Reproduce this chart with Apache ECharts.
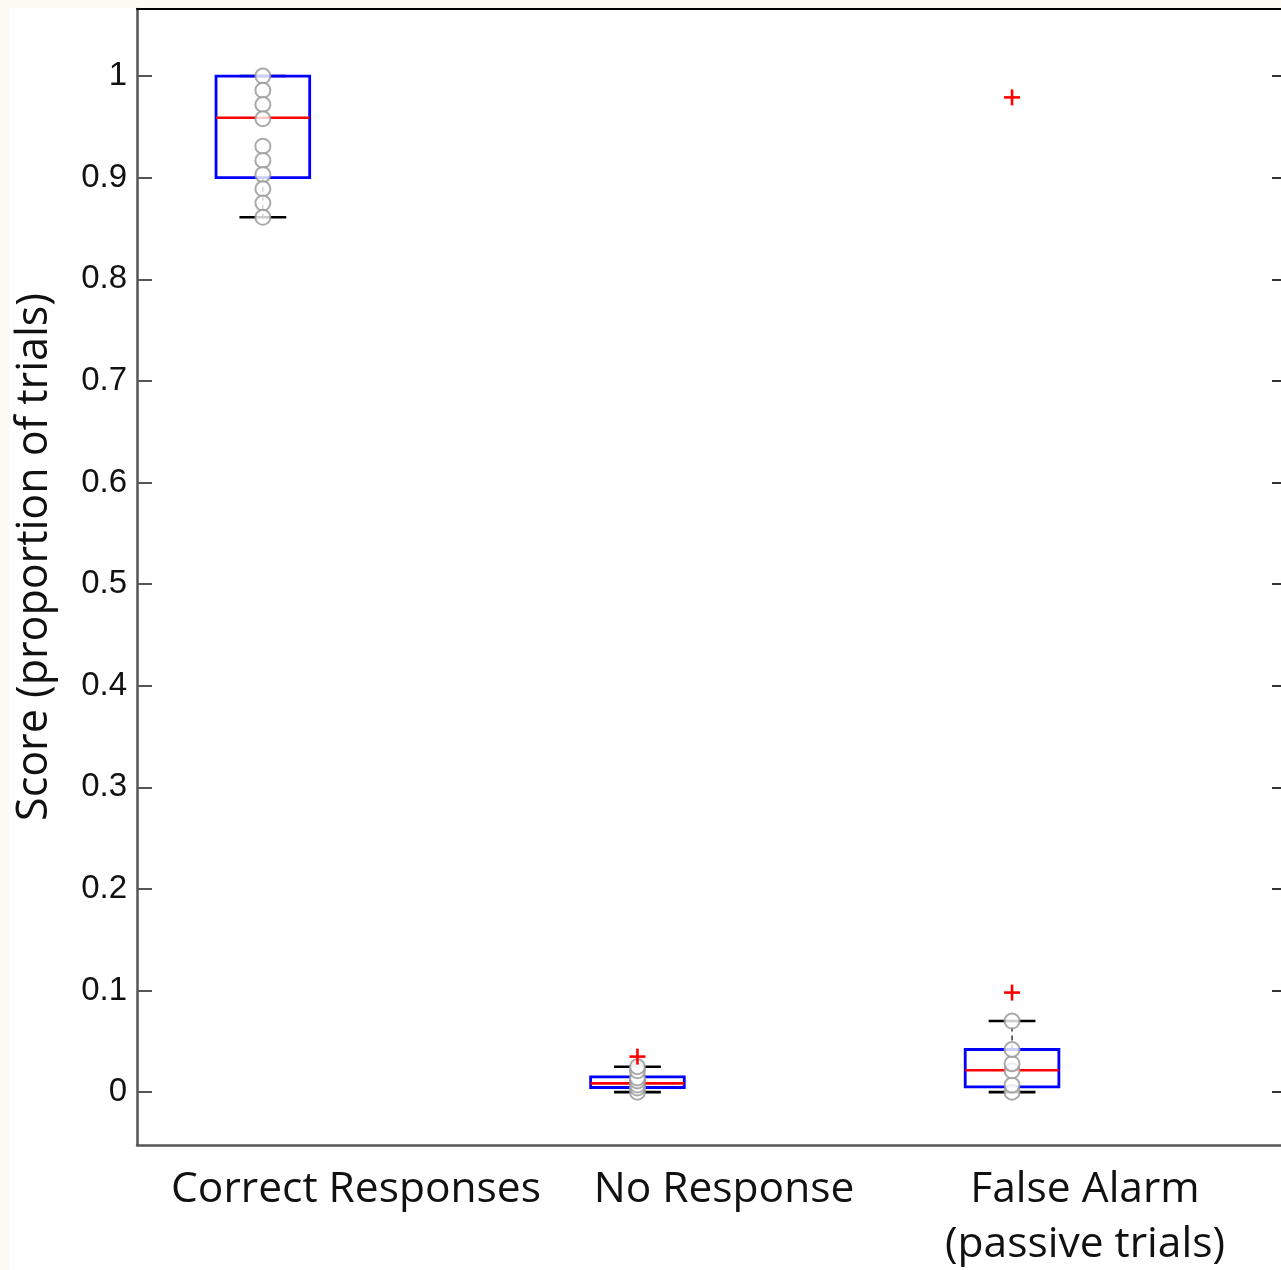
<!DOCTYPE html>
<html>
<head>
<meta charset="utf-8">
<script src="https://cdn.jsdelivr.net/npm/echarts@6/dist/echarts.min.js"></script>
<style>
  html, body { margin: 0; padding: 0; background: #ffffff; }
  #chart { width: 1281px; height: 1270px; }
</style>
</head>
<body>
<div id="chart"></div>
<script>
// Group names along the bottom
const categories = ['Correct Responses', 'No Response', 'False Alarm\n(passive trials)'];
const yTitle = 'Score (proportion of trials)';

// Box statistics per group: [lower whisker, q1, median, q3, upper whisker]
const correctStats = [0.861, 0.900, 0.959, 1.000, 1.000];
const noResponseStats = [0.000, 0.0046, 0.0086, 0.0151, 0.025];
const falseAlarmStats = [0.000, 0.0052, 0.0215, 0.042, 0.070];

// Individual subject scores (hollow circles)
const correctPoints = [1.000, 0.986, 0.972, 0.958, 0.931, 0.917, 0.903, 0.889, 0.875, 0.861];
const noResponsePoints = [0.000, 0.004, 0.007, 0.011, 0.014, 0.021, 0.025];
const falseAlarmPoints = [0.000, 0.007, 0.021, 0.028, 0.042, 0.070];

// Outliers (red plus marks): [group position, value]
const outliers = [[2, 0.035], [3, 0.098], [3, 0.979]];

// Y tick labels
const yTicks = [0, 0.1, 0.2, 0.3, 0.4, 0.5, 0.6, 0.7, 0.8, 0.9, 1];

const allStats = [correctStats, noResponseStats, falseAlarmStats];
const boxData = allStats.map((s, i) => [i + 1].concat(s));
const pointData = []
  .concat(correctPoints.map(v => [1, v]))
  .concat(noResponsePoints.map(v => [2, v]))
  .concat(falseAlarmPoints.map(v => [3, v]));

const BOX_HALF = 0.125;
const CAP_HALF = 0.0625;

function renderBox(params, api) {
  const x = api.value(0);
  const lo = api.value(1), q1 = api.value(2), med = api.value(3), q3 = api.value(4), hi = api.value(5);
  const pLo = api.coord([x, lo]), pQ1 = api.coord([x, q1]), pMed = api.coord([x, med]);
  const pQ3 = api.coord([x, q3]), pHi = api.coord([x, hi]);
  const left = api.coord([x - BOX_HALF, med])[0];
  const right = api.coord([x + BOX_HALF, med])[0];
  const capL = api.coord([x - CAP_HALF, med])[0];
  const capR = api.coord([x + CAP_HALF, med])[0];
  const cx = pMed[0];
  const dash = { stroke: '#000', lineWidth: 1.2, lineDash: [5, 4] };
  const cap = { stroke: '#000', lineWidth: 2.6 };
  return {
    type: 'group',
    children: [
      { type: 'line', shape: { x1: cx, y1: pQ3[1], x2: cx, y2: pHi[1] }, style: dash },
      { type: 'line', shape: { x1: cx, y1: pQ1[1], x2: cx, y2: pLo[1] }, style: dash },
      { type: 'line', shape: { x1: capL, y1: pHi[1], x2: capR, y2: pHi[1] }, style: cap },
      { type: 'line', shape: { x1: capL, y1: pLo[1], x2: capR, y2: pLo[1] }, style: cap },
      { type: 'rect', shape: { x: left, y: pQ3[1], width: right - left, height: pQ1[1] - pQ3[1] },
        style: { fill: null, stroke: '#0000ff', lineWidth: 2.8 } },
      { type: 'line', shape: { x1: left, y1: pMed[1], x2: right, y2: pMed[1] },
        style: { stroke: '#ff0000', lineWidth: 2.6 } }
    ]
  };
}

function renderPlus(params, api) {
  const p = api.coord([api.value(0), api.value(1)]);
  const h = 8;
  const st = { stroke: '#ff0000', lineWidth: 2.6 };
  return {
    type: 'group',
    children: [
      { type: 'line', shape: { x1: p[0] - h, y1: p[1], x2: p[0] + h, y2: p[1] }, style: st },
      { type: 'line', shape: { x1: p[0], y1: p[1] - h, x2: p[0], y2: p[1] + h }, style: st }
    ]
  };
}

const chart = echarts.init(document.getElementById('chart'), null, { renderer: 'canvas' });

const labelFont = "'Open Sans', 'Noto Sans', sans-serif";

chart.setOption({
  backgroundColor: '#ffffff',
  animation: false,
  grid: { left: 137, top: 9, width: 1150, height: 1136, containLabel: false, outerBoundsMode: 'none' },
  xAxis: [
    {
      type: 'value', min: 0.664, max: 3.734, position: 'bottom',
      axisLine: { show: true, onZero: false, lineStyle: { color: '#555555', width: 2.5 } },
      axisTick: { show: false }, axisLabel: { show: false }, splitLine: { show: false }
    },
    {
      type: 'value', min: 0.664, max: 3.734, position: 'top',
      axisLine: { show: true, onZero: false, lineStyle: { color: '#000000', width: 2 } },
      axisTick: { show: false }, axisLabel: { show: false }, splitLine: { show: false }
    }
  ],
  yAxis: [
    {
      type: 'value', min: -0.052, max: 1.066, position: 'left',
      axisLine: { show: true, onZero: false, lineStyle: { color: '#555555', width: 2.5 } },
      axisTick: { show: true, inside: true, length: 15, customValues: yTicks,
        lineStyle: { color: '#555555', width: 2 } },
      axisLabel: { show: true, customValues: yTicks, margin: 10,
        fontFamily: "'Liberation Sans', Arial, sans-serif", fontSize: 33, color: '#111111',
        formatter: v => String(Math.round(v * 10) / 10) },
      splitLine: { show: false }
    },
    {
      type: 'value', min: -0.052, max: 1.066, position: 'right',
      axisLine: { show: true, onZero: false, lineStyle: { color: '#000000', width: 2 } },
      axisTick: { show: true, inside: true, length: 15, customValues: yTicks,
        lineStyle: { color: '#333333', width: 2 } },
      axisLabel: { show: false }, splitLine: { show: false }
    }
  ],
  graphic: [
    { type: 'rect', left: 0, top: 0, z: -10, shape: { width: 1281, height: 8 }, style: { fill: '#fcfaf3' }, silent: true },
    { type: 'rect', left: 0, top: 0, z: -10, shape: { width: 10, height: 1270 }, style: { fill: '#fcfaf3' }, silent: true },
    { type: 'text', x: 35, y: 557, rotation: Math.PI / 2,
      style: { text: yTitle, fontFamily: labelFont, fontSize: 43,
        fill: '#111111', textAlign: 'center', textVerticalAlign: 'middle' } },
    { type: 'text', x: 356, y: 1190, style: { text: categories[0], fontFamily: labelFont, fontSize: 42.5,
        fill: '#111111', textAlign: 'center', textVerticalAlign: 'middle' } },
    { type: 'text', x: 724, y: 1190, style: { text: categories[1], fontFamily: labelFont, fontSize: 42.5,
        fill: '#111111', textAlign: 'center', textVerticalAlign: 'middle' } },
    { type: 'text', x: 1085, y: 1217, style: { text: categories[2], fontFamily: labelFont, fontSize: 42.5,
        lineHeight: 55, fill: '#111111', textAlign: 'center', textVerticalAlign: 'middle' } }
  ],
  series: [
    {
      type: 'custom', xAxisIndex: 0, yAxisIndex: 0, z: 2,
      renderItem: renderBox, data: boxData, clip: false
    },
    {
      type: 'scatter', xAxisIndex: 0, yAxisIndex: 0, z: 3,
      symbol: 'emptyCircle', symbolSize: 15,
      itemStyle: { color: '#959595', borderColor: '#959595', borderWidth: 1.5 },
      data: pointData
    },
    {
      type: 'custom', xAxisIndex: 0, yAxisIndex: 0, z: 4,
      renderItem: renderPlus, data: outliers
    }
  ]
});
</script>
</body>
</html>
